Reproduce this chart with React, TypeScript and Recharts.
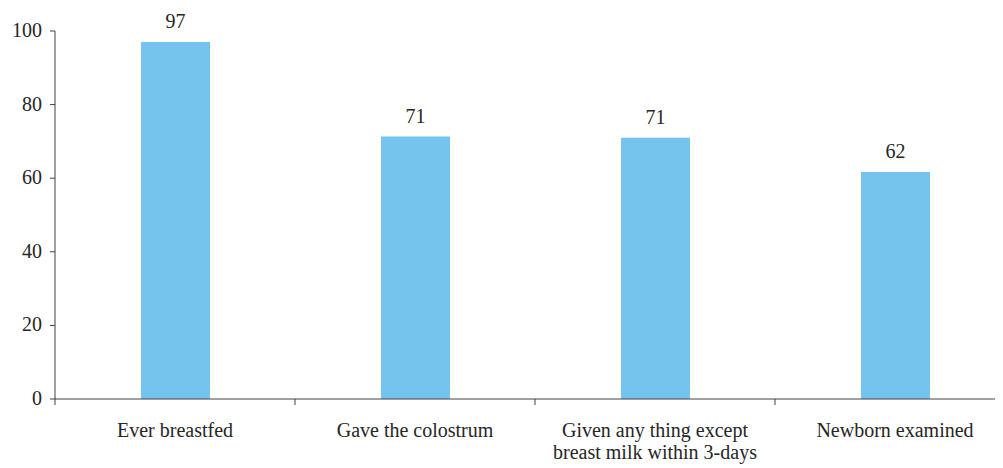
import React from "react";
import { BarChart, Bar, XAxis, YAxis, LabelList } from "recharts";

const categories = [
  "Ever breastfed",
  "Gave the colostrum",
  "Given any thing except\nbreast milk within 3-days",
  "Newborn examined",
];
const values = [97, 71.3, 71, 61.7];
const valueLabels = ["97", "71", "71", "62"];
const yTicks = [0, 20, 40, 60, 80, 100];

const data = categories.map((c, i) => ({ name: c, value: values[i], label: valueLabels[i] }));

const FONT = "Liberation Serif";
const TEXT = "#262626";
const AXIS = "#404040";

const XTick = (props: any) => {
  const { x, y, payload } = props;
  const half = payload.offset ?? 120;
  const axisY = y - 6;
  const lines = String(payload.value).split("\n");
  return (
    <g>
      <line x1={x - half} x2={x - half} y1={axisY} y2={axisY + 6} stroke={AXIS} strokeWidth={1} />
      <text x={x} y={axisY + 38} textAnchor="middle" fill={TEXT} fontSize={20} fontFamily={FONT}>
        {lines.map((l, i) => (
          <tspan key={i} x={x} dy={i === 0 ? 0 : 22} fontFamily={FONT}>
            {l}
          </tspan>
        ))}
      </text>
    </g>
  );
};

const YTick = (props: any) => {
  const { x, y, payload } = props;
  return (
    <text x={x} y={y} dy={6} textAnchor="end" fill={TEXT} fontSize={20} fontFamily={FONT}>
      {payload.value}
    </text>
  );
};

const TopLabel = (props: any) => {
  const { x, y, width, value } = props;
  return (
    <text x={x + width / 2} y={y - 14} textAnchor="middle" fill={TEXT} fontSize={20} fontFamily={FONT}>
      {value}
    </text>
  );
};

export default function App() {
  return (
    <div style={{ width: 995, height: 460, overflow: "hidden" }}>
      <BarChart
        width={1007}
        height={460}
        data={data}
        margin={{ top: 23, right: 0, bottom: 0, left: 0 }}
      >
        <XAxis
          dataKey="name"
          height={69}
          tickLine={false}
          tickSize={6}
          tickMargin={0}
          interval={0}
          axisLine={{ stroke: AXIS }}
          tick={<XTick />}
        />
        <YAxis
          width={47}
          domain={[0, 100]}
          ticks={yTicks}
          tickSize={5}
          tickMargin={8}
          axisLine={{ stroke: AXIS }}
          tickLine={{ stroke: AXIS }}
          tick={<YTick />}
        />
        <Bar dataKey="value" fill="#75C4EE" barSize={69} isAnimationActive={false}>
          <LabelList dataKey="label" content={<TopLabel />} />
        </Bar>
      </BarChart>
    </div>
  );
}
